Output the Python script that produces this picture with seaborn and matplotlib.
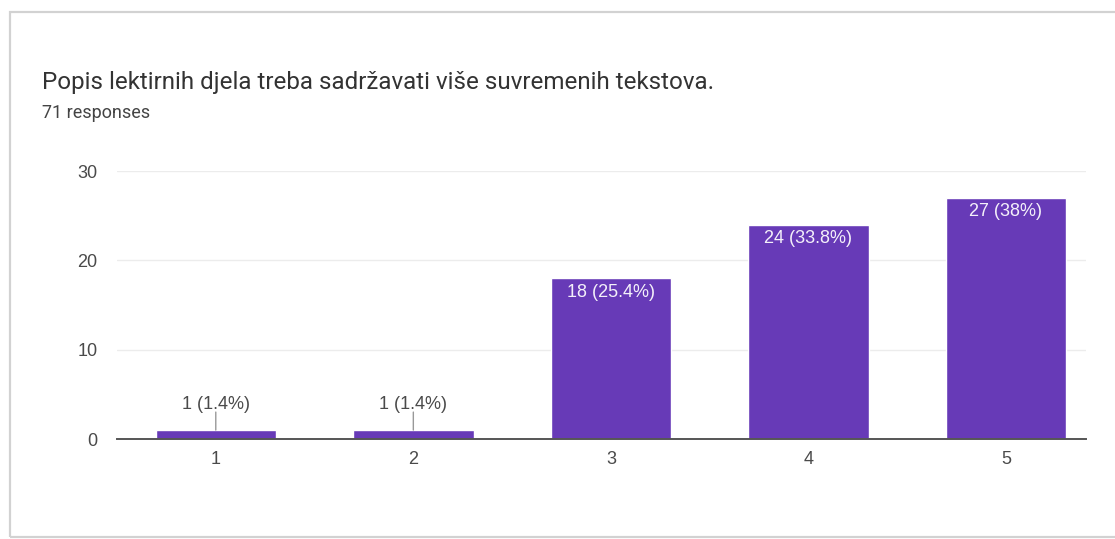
import matplotlib
matplotlib.use("Agg")
import matplotlib.pyplot as plt
from matplotlib.patches import Rectangle
import seaborn as sns
import pandas as pd

# Survey answers on a 1-5 scale and how many respondents picked each
categories = ["1", "2", "3", "4", "5"]
counts = [1, 1, 18, 24, 27]
total_responses = 71

title = "Popis lektirnih djela treba sadržavati više suvremenih tekstova."
subtitle = f"{total_responses} responses"
y_ticks = [0, 10, 20, 30]

BAR = "#673ab7"
TEXT = "#4a4a4a"
W, H, DPI = 1115, 539, 100

sns.set_theme(style="white")
plt.rcParams["font.family"] = ["Liberation Sans", "DejaVu Sans"]

df = pd.DataFrame({"answer": categories, "count": counts})

fig = plt.figure(figsize=(W / DPI, H / DPI), dpi=DPI, facecolor="white")

# card outline
fig.patches.append(Rectangle((10 / W, 2 / H), 1.2, (H - 12 - 2) / H,
                             transform=fig.transFigure, fill=False,
                             edgecolor="#d2d2d2", linewidth=1.6, zorder=0))

ax = fig.add_axes([117 / W, (H - 439) / H, (1086 - 117) / W, (439 - 171) / H])
sns.barplot(data=df, x="answer", y="count", color=BAR, width=0.61,
            saturation=1, ax=ax, zorder=3)

ax.set_ylim(0, 30)
ax.set_xlim(-0.5, 4.405)
ax.set_yticks(y_ticks)
ax.yaxis.grid(True, color="#ececec", linewidth=1)
ax.set_axisbelow(True)
for side in ("top", "right", "left"):
    ax.spines[side].set_visible(False)
ax.spines["bottom"].set_color("#555555")
ax.spines["bottom"].set_linewidth(1.4)
ax.spines["bottom"].set_zorder(4)
ax.set_xlabel("")
ax.set_ylabel("")
ax.tick_params(axis="both", length=0, labelsize=13, labelcolor=TEXT)
ax.tick_params(axis="y", pad=14)
ax.tick_params(axis="x", pad=9)


def pct_text(c):
    p = round(100 * c / total_responses, 1)
    s = f"{p:.1f}".rstrip("0").rstrip(".")
    return f"{c} ({s}%)"


for i, c in enumerate(counts):
    label = pct_text(c)
    if c >= 5:
        ax.annotate(label, (i, c), xytext=(0, -14), textcoords="offset pixels",
                    ha="center", va="center", fontsize=13, color="#f4f0fa",
                    zorder=5)
    else:
        ax.annotate("", (i, c), xytext=(0, 18), textcoords="offset pixels",
                    arrowprops=dict(arrowstyle="-", color="#999999", lw=1,
                                    shrinkA=0, shrinkB=0), zorder=5)
        ax.annotate(label, (i, c), xytext=(0, 26), textcoords="offset pixels",
                    ha="center", va="center", fontsize=13, color=TEXT,
                    zorder=5)

fig.text(42 / W, 1 - 83 / H, title, fontsize=17.4, color="#333333",
         family=["Roboto", "DejaVu Sans"], va="center", ha="left")
fig.text(42 / W, 1 - 113 / H, subtitle, fontsize=13, color="#444444",
         family=["Roboto", "DejaVu Sans"], va="center", ha="left")

fig.savefig("out.png", dpi=DPI, facecolor="white")
